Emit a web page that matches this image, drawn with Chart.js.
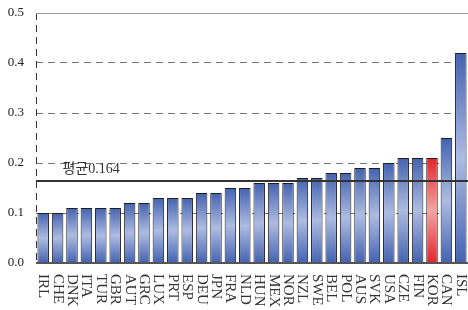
<!DOCTYPE html>
<html><head><meta charset="utf-8">
<script src="https://cdn.jsdelivr.net/npm/chart.js@4/dist/chart.umd.min.js"></script>
<style>html,body{margin:0;padding:0;background:#fff}#wrap{width:468px;height:310px;position:relative}</style>
</head><body><div id="wrap"><canvas id="c"></canvas></div>
<script>
const categories = ['IRL','CHE','DNK','ITA','TUR','GBR','AUT','GRC','LUX','PRT','ESP','DEU','JPN','FRA','NLD','HUN','MEX','NOR','NZL','SWE','BEL','POL','AUS','SVK','USA','CZE','FIN','KOR','CAN','ISL'];
const values = [0.10,0.10,0.11,0.11,0.11,0.11,0.12,0.12,0.13,0.13,0.13,0.14,0.14,0.15,0.15,0.16,0.16,0.16,0.17,0.17,0.18,0.18,0.19,0.19,0.20,0.21,0.21,0.21,0.25,0.42];
const highlight = 'KOR';
const meanValue = 0.164;
const meanLabel = '평균0.164';
const yMin = 0, yMax = 0.5, yStep = 0.1;

const SERIF = '"Liberation Serif","Times New Roman",serif';

function barFill(c){
  const chart = c.chart;
  const red = categories[c.dataIndex] === highlight;
  const dark = red ? '#e3242b' : '#4362b0';
  const light = red ? '#f4a3a3' : '#aebce2';
  if (!chart.chartArea || c.type !== 'data') return dark;
  const y = chart.scales.y;
  const top = y.getPixelForValue(c.raw), base = y.getPixelForValue(0);
  if (!isFinite(top) || !isFinite(base) || base - top < 1) return dark;
  const g = chart.ctx.createLinearGradient(0, top, 0, base);
  g.addColorStop(0, dark);
  g.addColorStop(0.5, light);
  g.addColorStop(1, dark);
  return g;
}

const overlay = {
  id: 'overlay',
  afterDatasetsDraw(chart){
    const {ctx, chartArea:a, scales:{x, y}} = chart;
    ctx.save();
    ctx.strokeStyle = '#333'; ctx.lineWidth = 1; ctx.setLineDash([7, 5]);
    const xl = Math.round(a.left) + 0.5;
    ctx.beginPath(); ctx.moveTo(xl, y.getPixelForValue(yMax)); ctx.lineTo(xl, y.getPixelForValue(yMin)); ctx.stroke();
    ctx.setLineDash([]);
    ctx.strokeStyle = '#999'; ctx.lineWidth = 1;
    const yt = Math.round(y.getPixelForValue(yMax)) + 0.5;
    ctx.beginPath(); ctx.moveTo(a.left, yt); ctx.lineTo(a.right, yt); ctx.stroke();
    ctx.strokeStyle = '#555'; ctx.lineWidth = 2;
    const yb = Math.round(y.getPixelForValue(yMin));
    ctx.beginPath(); ctx.moveTo(a.left, yb); ctx.lineTo(a.right, yb); ctx.stroke();
    const ym = Math.round(y.getPixelForValue(meanValue));
    ctx.strokeStyle = '#333'; ctx.lineWidth = 2;
    ctx.beginPath(); ctx.moveTo(a.left, ym); ctx.lineTo(a.right, ym); ctx.stroke();
    ctx.fillStyle = '#333';
    ctx.font = '14px "Liberation Serif","Noto Sans CJK KR",serif';
    ctx.textAlign = 'left'; ctx.textBaseline = 'alphabetic';
    ctx.fillText(meanLabel, x.getPixelForValue(1) + 5, ym - 8);
    ctx.restore();
  },
  afterDraw(chart){
    const {ctx, scales:{x, y}} = chart;
    const yb = y.getPixelForValue(yMin);
    ctx.save();
    ctx.fillStyle = '#333';
    ctx.font = '15px ' + SERIF;
    ctx.textAlign = 'left'; ctx.textBaseline = 'middle';
    categories.forEach((lab, i) => {
      ctx.save();
      ctx.translate(x.getPixelForValue(i), yb + 11);
      ctx.rotate(Math.PI / 2);
      ctx.fillText(lab, 0, 0);
      ctx.restore();
    });
    ctx.restore();
  }
};

new Chart(document.getElementById('c'), {
  type: 'bar',
  data: {
    labels: categories,
    datasets: [{
      data: values,
      backgroundColor: barFill,
      borderColor: '#1e1e1e',
      borderWidth: 1,
      borderSkipped: 'bottom',
      barPercentage: 0.8,
      categoryPercentage: 1.0
    }]
  },
  options: {
    responsive: true,
    maintainAspectRatio: false,
    animation: false,
    devicePixelRatio: 1,
    layout: { padding: { left: 0, right: 0, top: 13, bottom: 47 } },
    plugins: { legend: { display: false }, tooltip: { enabled: false } },
    scales: {
      x: {
        ticks: { display: false },
        grid: { display: false, drawTicks: false },
        border: { display: false }
      },
      y: {
        min: yMin, max: yMax,
        afterFit(s){ s.width = 36; s.paddingTop = 0; s.paddingBottom = 0; },
        ticks: {
          stepSize: yStep,
          padding: 12,
          color: '#222',
          font: { family: SERIF, size: 13 },
          callback: v => Number(v).toFixed(1)
        },
        grid: {
          drawTicks: false,
          color: c => (c.tick && (Math.abs(c.tick.value - yMin) < 1e-9 || Math.abs(c.tick.value - yMax) < 1e-9)) ? 'rgba(0,0,0,0)' : '#777',
          lineWidth: 1
        },
        border: { display: false, color: '#333', width: 1, dash: [7, 5] }
      }
    }
  },
  plugins: [overlay]
});
</script>
</body></html>
